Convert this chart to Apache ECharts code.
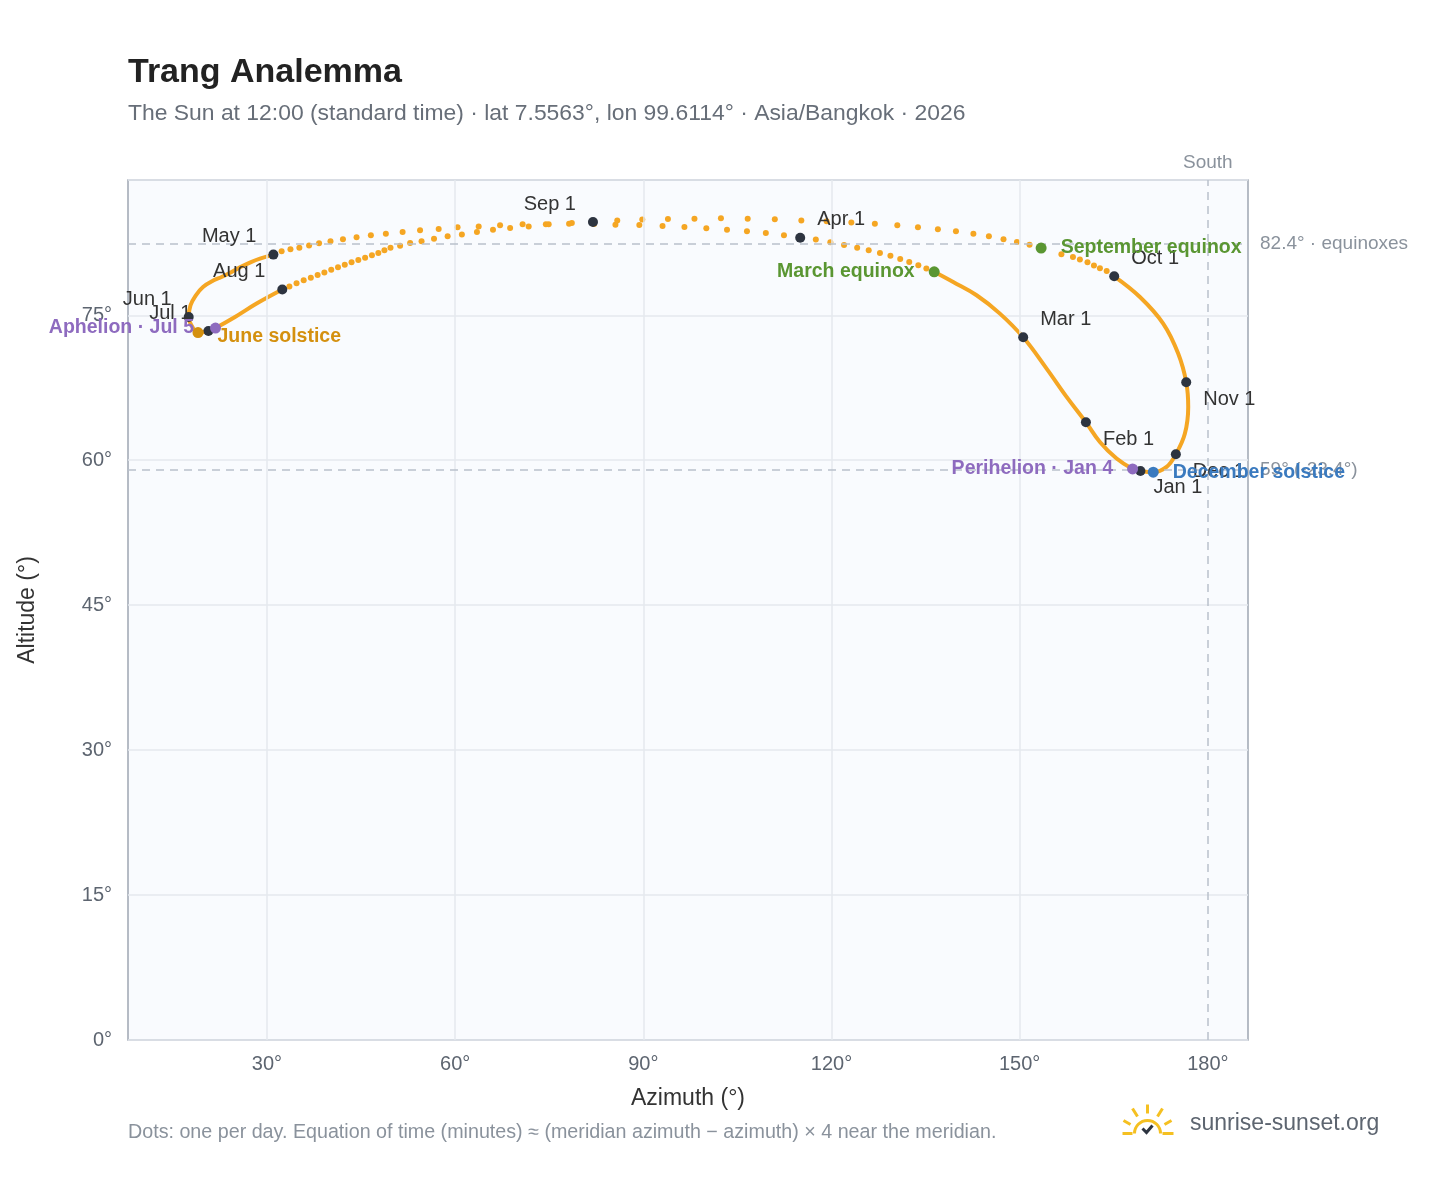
<!DOCTYPE html>
<html><head><meta charset="utf-8">
<script src="https://cdn.jsdelivr.net/npm/echarts@6/dist/echarts.min.js"></script>
<style>html,body{margin:0;padding:0;background:#fff}#c{width:1448px;height:1188px}</style>
</head><body><div id="c"></div>
<script>
// ---- DATA (azimuth°, altitude°) ----
const winterSpringPath = [[169.25,58.89],[168.0,59.10],[165.45,60.17],[162.79,61.89],[160.56,63.93],[157.48,66.55],[154.29,69.48],[150.56,72.72],[146.85,75.17],[143.13,77.07],[139.40,78.44],[136.37,79.50]];
const marchAprilDaily = [[135.12,79.83],[133.84,80.17],[132.39,80.51],[130.95,80.82],[129.39,81.17],[127.72,81.44],[125.93,81.72],[124.09,82.0],[122.0,82.27],[119.81,82.55],[117.5,82.83],[115.01,83.03],
 [112.42,83.27],[109.53,83.51],[106.52,83.69],[103.34,83.86],[100.04,84.0],[96.55,84.13],[93.06,84.24],[89.36,84.34],[85.55,84.38],
 [82.14,84.44],[78.60,84.55],[74.46,84.41],[70.75,84.41],[67.16,84.31],[63.75,84.20],[60.38,84.10],[57.37,83.93],[54.40,83.79],[51.62,83.62],[48.95,83.45],[46.56,83.27],[44.28,83.07],[42.11,82.86],[40.12,82.65],[38.30,82.45],[36.71,82.21],[35.16,82.0],[33.74,81.83],[32.33,81.62],[31.02,81.28]];
const mayAugustPath = [[31.02,81.28],[28.88,80.86],[27.45,80.51],[26.01,80.07],[24.36,79.48],[22.76,78.96],[21.50,78.62],[19.80,77.93],[18.66,77.07],[17.80,76.03],[17.52,74.82],[18.04,73.86],[19.0,73.21],[20.66,73.37],[21.79,73.68],[24.90,74.82],[28.34,76.21],[32.44,77.66]];
const augustSeptemberDaily = [[33.57,77.99],[34.71,78.31],[35.85,78.62],[36.99,78.89],[38.07,79.17],[39.15,79.44],[40.24,79.72],[41.32,79.96],[42.40,80.24],[43.48,80.48],[44.56,80.72],[45.64,80.96],[46.73,81.20],[47.75,81.44],[48.72,81.72],[49.69,81.99],
 [51.22,82.20],[52.82,82.48],[54.64,82.65],[56.63,82.93],[58.80,83.17],[61.07,83.37],[63.47,83.62],[66.03,83.86],[68.76,84.03],[71.72,84.20],[74.91,84.41],[78.16,84.48],[81.97,84.65],
 [85.84,84.82],[89.83,84.90],[93.92,84.96],[98.15,85.0],[102.37,85.03],[106.64,85.0],[110.96,84.93],[115.19,84.82],[119.22,84.72],[123.16,84.59],[126.91,84.48],[130.49,84.31],[133.78,84.10],[136.96,83.90],[139.84,83.69],[142.62,83.45],[145.09,83.17],[147.42,82.86],[149.56,82.58],[151.57,82.31],[153.42,81.96],
 [156.65,81.31],[158.49,81.03],[159.60,80.76],[160.81,80.48],[161.84,80.14],[162.79,79.86],[163.87,79.58]];
const autumnPath = [[165.07,79.03],[169.17,76.89],[172.88,74.14],[175.27,71.04],[176.55,68.07],[176.87,65.51],[176.34,62.76],[174.90,60.62],[173.42,59.31],[171.29,58.76],[169.44,58.86]];

const monthNames = ['Jan 1','Feb 1','Mar 1','Apr 1','May 1','Jun 1','Jul 1','Aug 1','Sep 1','Oct 1','Nov 1','Dec 1'];
const monthPoints = [[169.25,58.89],[160.56,63.93],[150.56,72.72],[115.01,83.03],[31.02,81.28],[17.52,74.82],[20.66,73.37],[32.44,77.66],[81.97,84.65],[165.07,79.03],[176.55,68.07],[174.90,60.62]];

const eventNames = ['March equinox','September equinox','June solstice','December solstice','Perihelion · Jan 4','Aphelion · Jul 5'];
const eventPoints = [[136.37,79.50],[153.42,81.96],[19.0,73.21],[171.29,58.76],[168.0,59.10],[21.79,73.68]];

const equinoxAlt = 82.4, decSolsticeAlt = 59, southAz = 180;
const xTicks = [30,60,90,120,150,180];

// ---- styling / layout ----
const ORANGE = '#f5a623', DARK = '#2d3440', GREY = '#8a929c';
const monthPlace = ['rb','rb','ra','ra','la','la','la','la','la','ra','rb','rb'];
const eventStyle = [
  {c:'#5a9632', side:'left'},{c:'#5a9632', side:'right'},{c:'#d4900f', side:'right'},
  {c:'#3a7abf', side:'right'},{c:'#8e6bbf', side:'left'},{c:'#8e6bbf', side:'left'}];
const FONT = 'Liberation Sans, Arial, sans-serif';

const chart = echarts.init(document.getElementById('c'));
const lineSeries = (d) => ({type:'line', data:d, smooth:0.4, symbol:'none', lineStyle:{color:ORANGE,width:4}, z:2, silent:true});
const dotSeries = (d) => ({type:'scatter', data:d, symbolSize:6, itemStyle:{color:ORANGE,opacity:1}, z:2, silent:true});
const SUN = '#f5c021';

chart.setOption({
  animation:false,
  textStyle:{fontFamily:FONT},
  title:{text:'Trang Analemma', subtext:'The Sun at 12:00 (standard time) · lat 7.5563°, lon 99.6114° · Asia/Bangkok · 2026',
    left:128, top:56, itemGap:12, padding:0,
    textStyle:{fontSize:34,fontWeight:'bold',color:'#222',fontFamily:FONT},
    subtextStyle:{fontSize:22.9,color:'#676e78',fontFamily:FONT}},
  grid:{left:128,right:200,top:180,bottom:148,show:true,backgroundColor:'#f9fbfe',borderColor:'#9ea7b3',borderWidth:1.5},
  xAxis:{type:'value',min:7.84,max:186.4,name:'Azimuth (°)',nameLocation:'middle',nameGap:47,
    nameTextStyle:{fontSize:23,color:'#333'},
    axisLine:{show:false},axisTick:{show:false},splitLine:{show:false},
    axisLabel:{customValues:xTicks,formatter:v=>v+'°',fontSize:20,color:'#5d6570',margin:14}},
  yAxis:{type:'value',min:0,max:89,interval:15,name:'Altitude (°)',nameLocation:'middle',nameGap:89,
    nameTextStyle:{fontSize:23,color:'#333'},
    axisLine:{show:false},axisTick:{show:false},
    splitLine:{lineStyle:{color:'#e4e8ee',width:1.5}},
    axisLabel:{formatter:v=>v+'°',fontSize:20,color:'#5d6570',margin:16,showMaxLabel:false}},
  series:[
    {type:'line',data:[],silent:true,z:1,
      markLine:{symbol:['none','none'],silent:true,label:{show:false},
        lineStyle:{color:'#e4e8ee',type:'solid',width:1.5},
        data:xTicks.filter(v=>v!==southAz).map(v=>({xAxis:v}))}},
    {type:'line',data:[],silent:true,z:1,
      markLine:{symbol:['none','none'],silent:true,
        lineStyle:{color:'#b9c1cc',type:[8,6],width:1.5},
        label:{color:GREY,fontSize:19,distance:12},
        data:[
          {yAxis:equinoxAlt,label:{position:'end',formatter:equinoxAlt+'° · equinoxes'}},
          {yAxis:decSolsticeAlt,label:{position:'end',formatter:decSolsticeAlt+'° (-23.4°)'}},
          {xAxis:southAz,label:{position:'end',formatter:'South',distance:8}}]}},
    lineSeries(winterSpringPath), dotSeries(marchAprilDaily), lineSeries(mayAugustPath),
    dotSeries(augustSeptemberDaily), lineSeries(autumnPath),
    {type:'scatter',z:5,silent:true,symbolSize:10,itemStyle:{color:DARK,opacity:1},
      data:monthPoints.map((p,i)=>{const pl=monthPlace[i];return {value:p,label:{show:true,formatter:monthNames[i],
        position:pl[0]==='r'?'right':'left',distance:i===0?8:12,offset:[0,pl[1]==='a'?-18:17],fontSize:20,color:'#333'}};})},
    {type:'scatter',z:6,silent:true,symbolSize:11,
      data:eventPoints.map((p,i)=>({value:p,itemStyle:{color:eventStyle[i].c,opacity:1},
        label:{show:true,formatter:eventNames[i],position:eventStyle[i].side,distance:i===5?16:14,offset:i===2?[0,4]:[0,0],
          fontSize:19.5,fontWeight:'bold',color:eventStyle[i].c}}))}
  ],
  graphic:[
    {type:'text',left:128,top:1123,style:{text:'Dots: one per day. Equation of time (minutes) ≈ (meridian azimuth − azimuth) × 4 near the meridian.',fontSize:19.7,fill:'#8a929c',fontFamily:FONT}},
    {type:'group',left:1120,top:1102,children:[
      {type:'arc',shape:{cx:27,cy:29,r:13,startAngle:Math.PI,endAngle:2*Math.PI},style:{stroke:SUN,lineWidth:3,fill:null}},
      {type:'line',shape:{x1:27,y1:0,x2:27,y2:9},style:{stroke:SUN,lineWidth:3}},
      {type:'line',shape:{x1:12,y1:4,x2:17,y2:12},style:{stroke:SUN,lineWidth:3}},
      {type:'line',shape:{x1:42,y1:4,x2:37,y2:12},style:{stroke:SUN,lineWidth:3}},
      {type:'line',shape:{x1:3,y1:16,x2:10,y2:20},style:{stroke:SUN,lineWidth:3}},
      {type:'line',shape:{x1:51,y1:16,x2:44,y2:20},style:{stroke:SUN,lineWidth:3}},
      {type:'line',shape:{x1:2,y1:29,x2:12,y2:29},style:{stroke:SUN,lineWidth:3}},
      {type:'line',shape:{x1:42,y1:29,x2:53,y2:29},style:{stroke:SUN,lineWidth:3}},
      {type:'polyline',shape:{points:[[22,24],[26,28],[32,21]]},style:{stroke:'#2d3440',lineWidth:3,fill:null}}
    ]},
    {type:'text',left:1190,top:1112,style:{text:'sunrise-sunset.org',fontSize:23,fill:'#5d6570',fontFamily:FONT}}
  ]
});
</script></body></html>
